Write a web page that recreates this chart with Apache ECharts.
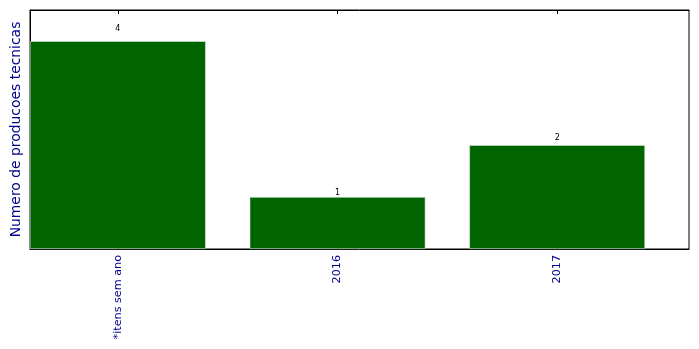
<!DOCTYPE html>
<html><head><meta charset="utf-8">
<script src="https://cdn.jsdelivr.net/npm/echarts@6/dist/echarts.min.js"></script>
<style>html,body{margin:0;padding:0;background:#fff}#c{width:699px;height:349px}</style>
</head><body><div id="c"></div>
<script>
const categories = ['*itens sem ano', '2016', '2017'];
const values = [4, 1, 2];
const positions = [0, 1, 2];

const chart = echarts.init(document.getElementById('c'), null, {renderer: 'canvas'});
const font = 'DejaVu Sans';
chart.setOption({
  animation: false,
  grid: {left: 30, right: 10, top: 10, bottom: 100, show: true, borderColor: '#000', borderWidth: 1, backgroundColor: '#fff'},
  xAxis: [{
    type: 'value', min: -0.4, max: 2.6, position: 'bottom',
    axisLine: {show: true, onZero: false, lineStyle: {color: '#000', width: 1}},
    splitLine: {show: false},
    axisTick: {show: true, inside: true, length: 4, customValues: positions, lineStyle: {color: '#000'}},
    axisLabel: {show: true, rotate: 90, customValues: positions, fontFamily: font, fontSize: 11.2, color: '#00008b', margin: 6,
      formatter: v => categories[Math.round(v)]}
  }, {
    type: 'value', min: -0.4, max: 2.6, position: 'top',
    axisLine: {show: true, onZero: false, lineStyle: {color: '#000', width: 1}},
    splitLine: {show: false},
    axisTick: {show: true, inside: true, length: 4, customValues: positions, lineStyle: {color: '#000'}},
    axisLabel: {show: false}
  }],
  yAxis: {
    type: 'value', min: 0, max: 4.6,
    name: 'Numero de producoes tecnicas', nameLocation: 'middle', nameGap: 7,
    nameTextStyle: {fontFamily: font, fontSize: 13.9, color: '#00008b'},
    axisLine: {show: true, onZero: false, lineStyle: {color: '#000'}},
    axisTick: {show: false}, axisLabel: {show: false}, splitLine: {show: false}
  },
  series: [{
    type: 'bar', xAxisIndex: 0,
    data: positions.map((p, i) => [p, values[i]]),
    barWidth: 175.7,
    itemStyle: {color: '#006400', borderColor: '#d8e8d8', borderWidth: 0.6}
  }, {
    type: 'scatter', xAxisIndex: 0, symbolSize: 0, silent: true,
    itemStyle: {opacity: 1},
    data: positions.map((p, i) => ({value: [p, values[i] * 1.05], raw: values[i]})),
    label: {show: true, position: 'top', distance: 0, offset: [0, 2], opacity: 1, fontFamily: font, fontSize: 8, color: '#000',
      formatter: p => String(p.data.raw)}
  }]
});
</script></body></html>
